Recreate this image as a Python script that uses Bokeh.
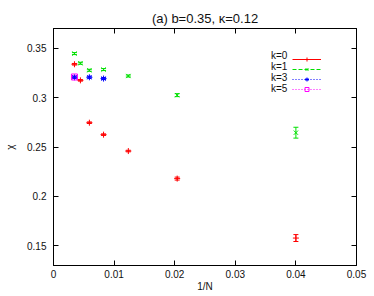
from bokeh.plotting import figure
from bokeh.models import (ColumnDataSource, Whisker, TeeHead, Legend, LegendItem,
                          LinearAxis, FixedTicker, Range1d, CustomJSTickFormatter)
from bokeh.embed import file_html
from bokeh.resources import INLINE

title_text = "(a) b=0.35, κ=0.12"
x_label = "1/N"
y_label = "χ"

x_k0 = [0.00346, 0.00444, 0.00592, 0.00826, 0.01235, 0.02041, 0.04]
y_k0 = [0.3338, 0.3175, 0.2746, 0.2625, 0.2459, 0.2180, 0.1578]
e_k0 = [0.0008, 0.0008, 0.0008, 0.0008, 0.0008, 0.0015, 0.0035]

x_k1 = [0.00346, 0.00444, 0.00592, 0.00826, 0.01235, 0.02041, 0.04]
y_k1 = [0.3446, 0.3348, 0.3277, 0.3284, 0.3219, 0.3025, 0.2645]
e_k1 = [0.0010, 0.0010, 0.0010, 0.0010, 0.0010, 0.0015, 0.0055]

x_k3 = [0.00346, 0.00592, 0.00826]
y_k3 = [0.3206, 0.3206, 0.3193]
e_k3 = [0.0010, 0.0010, 0.0010]

x_k5 = [0.00346]
y_k5 = [0.3209]
e_k5 = [0.0010]

series_labels = ["k=0", "k=1", "k=3", "k=5"]

x_ticks = [0, 0.01, 0.02, 0.03, 0.04, 0.05]
x_tick_labels = ["0", "0.01", "0.02", "0.03", "0.04", "0.05"]
y_ticks = [0.15, 0.2, 0.25, 0.3, 0.35]
y_tick_labels = ["0.15", "0.2", "0.25", "0.3", "0.35"]

FONT = "Liberation Sans"
TXT = "#111111"

p = figure(width=372, height=294,
           x_range=Range1d(0, 0.05), y_range=Range1d(0.13, 0.37),
           output_backend="svg", toolbar_location=None,
           min_border_left=53, min_border_right=16, min_border_top=28, min_border_bottom=29)
p.xgrid.visible = False
p.ygrid.visible = False
p.outline_line_color = "black"
p.background_fill_color = "white"

p.title.text = title_text
p.title.align = "center"
p.title.text_font = FONT
p.title.text_font_size = "13px"
p.title.text_font_style = "normal"
p.title.text_color = TXT
p.title.standoff = 5

def style_axis(ax, ticks, labels, show_labels=True, standoff=4):
    ax.ticker = FixedTicker(ticks=ticks)
    ax.major_tick_in = 5
    ax.major_tick_out = 0
    ax.minor_tick_in = 0
    ax.minor_tick_out = 0
    ax.axis_line_color = "black"
    ax.major_tick_line_color = "black"
    if show_labels:
        ax.major_label_overrides = {t: l for t, l in zip(ticks, labels)}
        ax.major_label_text_font = FONT
        ax.major_label_text_font_size = "10px"
        ax.major_label_text_color = TXT
        ax.major_label_standoff = standoff
    else:
        ax.formatter = CustomJSTickFormatter(code="return ''")
        ax.major_label_standoff = 0
        ax.major_label_text_font_size = "1px"

style_axis(p.xaxis[0], x_ticks, x_tick_labels, True, 4)
style_axis(p.yaxis[0], y_ticks, y_tick_labels, True, 7)

p.xaxis[0].axis_label = x_label
p.xaxis[0].axis_label_standoff = 0
p.xaxis[0].axis_label_text_font = FONT
p.xaxis[0].axis_label_text_font_size = "10px"
p.xaxis[0].axis_label_text_font_style = "normal"
p.xaxis[0].axis_label_text_color = TXT

p.yaxis[0].axis_label = y_label
p.yaxis[0].axis_label_standoff = 8
p.yaxis[0].axis_label_text_font = FONT
p.yaxis[0].axis_label_text_font_size = "10px"
p.yaxis[0].axis_label_text_font_style = "normal"
p.yaxis[0].axis_label_text_color = TXT

top_ax = LinearAxis()
style_axis(top_ax, x_ticks, x_tick_labels, False)
p.add_layout(top_ax, "above")
right_ax = LinearAxis()
style_axis(right_ax, y_ticks, y_tick_labels, False)
p.add_layout(right_ax, "right")

series = [
    (x_k0, y_k0, e_k0, "#ff0000", "cross", "solid"),
    (x_k1, y_k1, e_k1, "#00e000", "x", "4 2"),
    (x_k3, y_k3, e_k3, "#0000ff", "asterisk", "1 2"),
    (x_k5, y_k5, e_k5, "#ff00ff", "square", "1 2"),
]

text_items = []
glyph_items = []
for (xs, ys, es, color, marker, dash), lab in zip(series, series_labels):
    src = ColumnDataSource(dict(x=xs, y=ys,
                                lo=[y - e for y, e in zip(ys, es)],
                                hi=[y + e for y, e in zip(ys, es)]))
    w = Whisker(source=src, base="x", lower="lo", upper="hi", dimension="height",
                line_color=color, line_width=1,
                upper_head=TeeHead(size=5, line_color=color, line_width=1),
                lower_head=TeeHead(size=5, line_color=color, line_width=1))
    p.add_layout(w)
    ln = p.line("x", "y", source=src, line_color=color, line_width=1, line_dash=dash)
    ln.visible = False
    sc = p.scatter("x", "y", source=src, marker=marker, size=6, line_color=color,
                   fill_color=None, line_width=1)
    ghost = p.scatter("x", "y", source=src, size=1, line_alpha=0, fill_alpha=0)
    text_items.append(LegendItem(label=lab, renderers=[ghost]))
    glyph_items.append(LegendItem(label="", renderers=[ln, sc]))

common = dict(glyph_height=10, label_height=10, spacing=-3, padding=0, margin=0,
              label_text_font=FONT, label_text_font_size="10px", label_text_color=TXT,
              border_line_color=None, background_fill_alpha=0)
legend_text = Legend(items=text_items, location=(216, 171), glyph_width=1,
                     label_standoff=1, label_width=16, **common)
legend_glyph = Legend(items=glyph_items, location=(239, 171), glyph_width=29,
                      label_standoff=0, label_width=0, **common)
p.add_layout(legend_text)
p.add_layout(legend_glyph)

open("out.html", "w").write(file_html(p, INLINE))
